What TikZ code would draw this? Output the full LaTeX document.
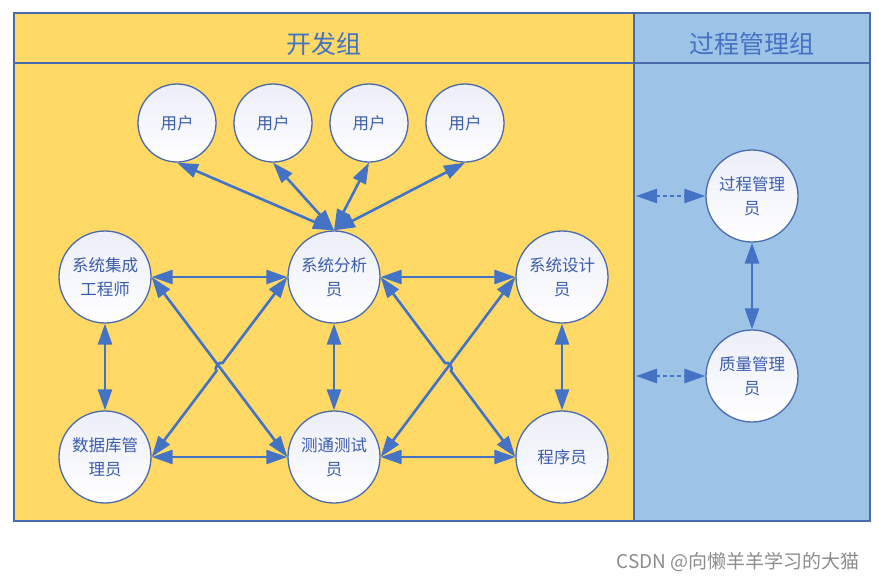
\documentclass[tikz,border=0pt]{standalone}
\usepackage{fontspec}
\setmainfont{Noto Sans CJK SC}
\usetikzlibrary{arrows.meta,calc}
\definecolor{gold}{HTML}{FFD966}
\definecolor{paleblue}{HTML}{9DC3E6}
\definecolor{framec}{HTML}{4A6AAE}
\definecolor{arrowc}{HTML}{4472C4}
\definecolor{txtc}{HTML}{3A5DAE}
\definecolor{lav}{HTML}{ECEEF8}
\begin{document}
\begin{tikzpicture}[x=1pt,y=-1pt,
  role/.style={circle, draw=framec, line width=1.3pt, top color=lav, bottom color=white,
    minimum size=92pt, inner sep=0pt, align=center, text=txtc,
    font=\fontsize{16.5}{24}\selectfont},
  user/.style={role, minimum size=78pt},
  link/.style={draw=arrowc, line width=2.6pt,
    {Triangle[length=21pt,width=14pt]}-{Triangle[length=21pt,width=14pt]}},
  dlink/.style={link, dash pattern=on 4pt off 3pt},
  header/.style={text=arrowc, font=\fontsize{25}{29}\selectfont},
  frameline/.style={draw=framec, line width=1.5pt},
]
\useasboundingbox (0,0) rectangle (879,581);
% panels
\fill[gold] (14,13) rectangle (634,521);
\fill[paleblue] (634,13) rectangle (870,521);
\draw[frameline] (14,13) rectangle (870,521);
\draw[frameline] (634,13) -- (634,521);
\draw[frameline] (14,63) -- (870,63);
\node[header] (h1) at (324,44) {开发组};
\node[header] (h2) at (752,44) {过程管理组};
% users
\node[user] (u1) at (177,123) {用户};
\node[user] (u2) at (273,123) {用户};
\node[user] (u3) at (369,123) {用户};
\node[user] (u4) at (465,123) {用户};
% roles
\node[role] (int) at (105,277) {系统集成\\工程师};
\node[role] (ana) at (334,277) {系统分析\\员};
\node[role] (des) at (562,277) {系统设计\\员};
\node[role] (db) at (105,457) {数据库管\\理员};
\node[role] (test) at (334,457) {测通测试\\员};
\node[role] (prog) at (562,457) {程序员};
\node[role] (pm) at (752,196) {过程管理\\员};
\node[role] (qm) at (752,376) {质量管理\\员};
% user links
\draw[link] (u1.south) -- (ana.north);
\draw[link] (u2.south) -- (ana.north);
\draw[link] (u3.south) -- (ana.north);
\draw[link] (u4.south) -- (ana.north);
% horizontal
\draw[link] (int.east) -- (ana.west);
\draw[link] (ana.east) -- (des.west);
\draw[link] (db.east) -- (test.west);
\draw[link] (test.east) -- (prog.west);
% vertical
\draw[link] (int.south) -- (db.north);
\draw[link] (ana.south) -- (test.north);
\draw[link] (des.south) -- (prog.north);
\draw[link] (pm.south) -- (qm.north);
% diagonals
\draw[link] (int.east) -- (test.west);
\draw[link] (test.east) -- (des.west);
\coordinate (x1) at ($(int.east)!0.5!(test.west)$);
\coordinate (x2) at ($(ana.east)!0.5!(prog.west)$);
\draw[link] (db.east) -- ($(x1)!5pt!(db.east)$) to[bend left=90] ($(x1)!5pt!(ana.west)$) -- (ana.west);
\draw[link] (ana.east) -- ($(x2)!5pt!(ana.east)$) to[bend left=90] ($(x2)!5pt!(prog.west)$) -- (prog.west);
% dashed links from the group border
\coordinate (d1) at (636,196);
\coordinate (d2) at (636,376);
\draw[dlink] (d1) -- (pm.west);
\draw[dlink] (d2) -- (qm.west);
% watermark
\node[anchor=east, text=black!45, font=\fontsize{19}{22}\selectfont] (wm) at (863,562) {CSDN @向懒羊羊学习的大猫};
\end{tikzpicture}
\end{document}
